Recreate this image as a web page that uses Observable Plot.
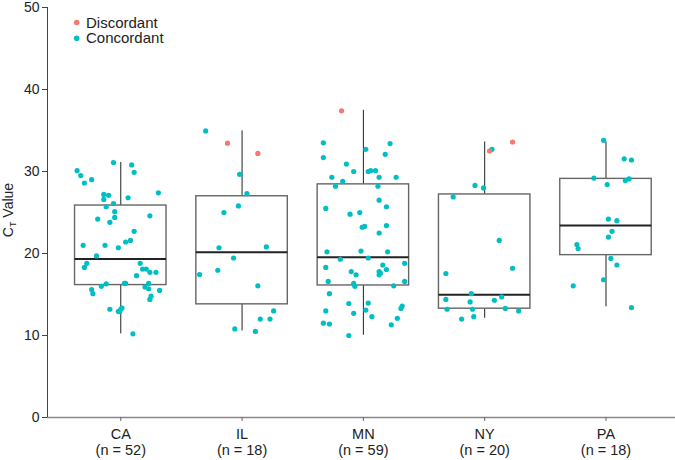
<!DOCTYPE html>
<html><head><meta charset="utf-8">
<script src="https://cdn.jsdelivr.net/npm/d3@7"></script>
<script src="https://cdn.jsdelivr.net/npm/@observablehq/plot@0.6"></script>
<style>body{margin:0;background:#fff}#chart{width:675px;height:460px}</style>
</head><body><div id="chart"></div>
<script>
// ---- data ----
const states = ["CA", "IL", "MN", "NY", "PA"];
const counts = [52, 18, 59, 20, 18];
const yTicks = [0, 10, 20, 30, 40, 50];

// box statistics
const q1 = [16.15, 13.8, 16.1, 13.27, 19.8];
const median = [19.33, 20.15, 19.54, 14.97, 23.4];
const q3 = [25.85, 26.98, 28.43, 27.2, 29.1];
const whiskerLow = [10.2, 10.55, 10.03, 12.1, 13.5];
const whiskerHigh = [31.1, 34.95, 37.46, 33.6, 33.6];

// concordant points: Ct value and horizontal jitter (fraction of category spacing)
const caCt = [31.1,30.8,30.1,29.9,29.5,29.0,28.6,27.4,27.2,27.1,26.6,26.8,26.1,25.7,25.1,24.2,24.4,23.8,24.6,22.7,21.0,21.0,20.7,21.4,21.6,19.7,18.8,18.3,18.8,18.1,18.1,17.7,17.7,17.3,16.3,16.0,16.35,16.35,16.35,15.9,15.7,15.5,15.6,15.1,14.8,14.4,13.2,12.9,13.2,13.35,10.2,12.95];
const caJitter = [-0.06,0.09,-0.36,0.11,-0.33,-0.24,-0.30,0.31,-0.14,-0.10,-0.14,0.06,-0.06,-0.12,-0.05,-0.19,-0.05,-0.09,0.24,0.11,-0.31,-0.13,-0.02,0.04,0.08,-0.20,-0.28,-0.30,0.16,0.18,0.21,0.24,0.29,0.13,-0.12,-0.16,0.03,0.04,0.23,0.20,0.23,0.32,-0.24,-0.23,0.25,0.24,-0.09,-0.01,0.00,0.01,0.10,-0.02];
const ilCt = [34.95,29.65,27.3,25.8,25.0,20.7,20.8,19.45,17.96,17.44,16.06,13.0,12.0,12.0,10.8,10.5];
const ilJitter = [-0.30,-0.02,0.04,-0.03,-0.15,-0.19,0.20,-0.07,-0.20,-0.35,0.13,0.26,0.15,0.23,-0.06,0.11];
const mnCt = [33.5,33.4,32.7,31.7,32.1,30.9,30.0,30.0,30.1,30.1,29.3,29.3,29.3,28.8,28.2,28.2,26.5,25.5,25.7,24.8,25.0,23.4,23.2,23.3,22.5,20.2,20.3,20.2,19.3,19.45,18.3,18.8,18.6,18.05,17.8,17.6,17.4,17.8,17.4,16.6,16.6,16.35,16.0,16.06,15.1,13.9,13.96,13.1,13.6,13.3,13.0,12.7,12.3,12.1,11.5,11.4,11.3,10.0];
const mnJitter = [-0.33,0.22,0.02,-0.33,0.18,-0.14,-0.08,0.04,0.06,0.10,-0.26,0.13,0.27,-0.17,-0.23,0.12,0.13,-0.31,0.19,-0.11,-0.03,0.19,-0.01,0.01,0.13,-0.30,-0.02,0.20,-0.19,0.04,-0.31,0.34,0.16,0.19,0.13,0.14,0.13,-0.10,-0.06,-0.29,0.34,-0.08,-0.07,0.25,-0.28,-0.12,0.04,0.02,0.32,0.31,-0.31,-0.08,0.07,0.28,-0.33,-0.28,0.23,-0.12];
const nyCt = [32.7,28.3,28.0,26.9,21.6,18.2,17.56,15.1,14.7,14.4,14.1,14.3,13.2,13.2,13.3,13.0,12.0,12.3];
const nyJitter = [0.06,-0.08,-0.01,-0.26,0.12,0.23,-0.32,-0.11,0.14,-0.32,-0.12,0.08,-0.31,-0.10,0.17,0.28,-0.19,-0.09];
const paCt = [33.8,31.55,31.4,29.2,28.4,28.9,29.1,24.2,24.0,22.7,22.0,21.1,20.6,19.4,18.6,16.8,16.06,13.4];
const paJitter = [-0.02,0.15,0.21,-0.10,0.01,0.16,0.19,0.02,0.09,0.05,0.02,-0.24,-0.23,0.04,0.09,-0.02,-0.27,0.21];

// discordant points
const discState = ["IL", "IL", "MN", "NY", "NY"];
const discCt = [33.46, 32.2, 37.4, 33.6, 32.5];
const discJitter = [-0.12, 0.13, -0.18, 0.23, 0.04];

const seriesNames = ["Discordant", "Concordant"];
const seriesColors = ["#F8766D", "#00BFC4"];

// ---- build tables ----
const concCt = [caCt, ilCt, mnCt, nyCt, paCt];
const concJit = [caJitter, ilJitter, mnJitter, nyJitter, paJitter];
const concordant = [];
concCt.forEach((arr, i) => arr.forEach((v, k) => concordant.push({x: i + concJit[i][k], y: v})));
const discordant = discState.map((s, k) => ({x: states.indexOf(s) + discJitter[k], y: discCt[k]}));
const boxes = states.map((s, i) => ({i, q1: q1[i], med: median[i], q3: q3[i], lo: whiskerLow[i], hi: whiskerHigh[i]}));
const halfW = 0.377;

const xDomain = [-0.604, 4.573];
const font = "'Liberation Sans', Arial, Helvetica, sans-serif";

const chart = Plot.plot({
  width: 675, height: 460,
  marginLeft: 47, marginRight: 0, marginTop: 7, marginBottom: 43,
  style: {fontFamily: font, fontSize: "15px", color: "#222", background: "#fff"},
  x: {type: "linear", domain: xDomain},
  y: {domain: [0, 50]},
  marks: [
    Plot.ruleX(boxes, {x: "i", y1: "lo", y2: "q1", stroke: "#222", strokeWidth: 1}),
    Plot.ruleX(boxes, {x: "i", y1: "q3", y2: "hi", stroke: "#222", strokeWidth: 1}),
    Plot.rect(boxes, {x1: d => d.i - halfW, x2: d => d.i + halfW, y1: "q1", y2: "q3", fill: "none", stroke: "#666", strokeWidth: 1.4}),
    Plot.ruleY(boxes, {y: "med", x1: d => d.i - halfW, x2: d => d.i + halfW, stroke: "#222", strokeWidth: 2}),
    Plot.dot(concordant, {x: "x", y: "y", r: 2.6, fill: seriesColors[1], stroke: "none"}),
    Plot.dot(discordant, {x: "x", y: "y", r: 2.6, fill: seriesColors[0], stroke: "none"}),
    Plot.ruleY([0], {stroke: "#888", strokeWidth: 1.6}),
    Plot.ruleX([xDomain[0]], {stroke: "#444", strokeWidth: 1}),
    Plot.axisY({ticks: yTicks, tickSize: 5, tickPadding: 3, label: null, fontSize: 14, stroke: "#444"}),
    Plot.axisX({ticks: [0, 1, 2, 3, 4], tickFormat: i => `${states[i]}\n(n = ${counts[i]})`, tickSize: 4, tickPadding: 6, label: null, lineHeight: 1.1, fontSize: 14.5, stroke: "#666"})
  ]
});
document.getElementById("chart").appendChild(chart);

// y-axis title with subscript, and legend
const svg = d3.select(chart);
const t = svg.append("text")
  .attr("transform", "translate(12.5,210) rotate(-90)")
  .attr("text-anchor", "middle")
  .attr("font-family", font).attr("font-size", 14).attr("fill", "#222");
t.append("tspan").text("C");
t.append("tspan").attr("font-size", 9).attr("dy", 3).text("T");
t.append("tspan").attr("dy", -3).text(" Value");

const lg = svg.append("g").attr("font-family", font).attr("font-size", 15).attr("fill", "#222").attr("text-anchor", "start");
seriesNames.forEach((name, k) => {
  const cy = 22.5 + k * 15.8;
  lg.append("circle").attr("cx", 76.7).attr("cy", cy).attr("r", 2.8).attr("fill", seriesColors[k]);
  lg.append("text").attr("x", 86).attr("y", cy + 5).text(name);
});
</script></body></html>
